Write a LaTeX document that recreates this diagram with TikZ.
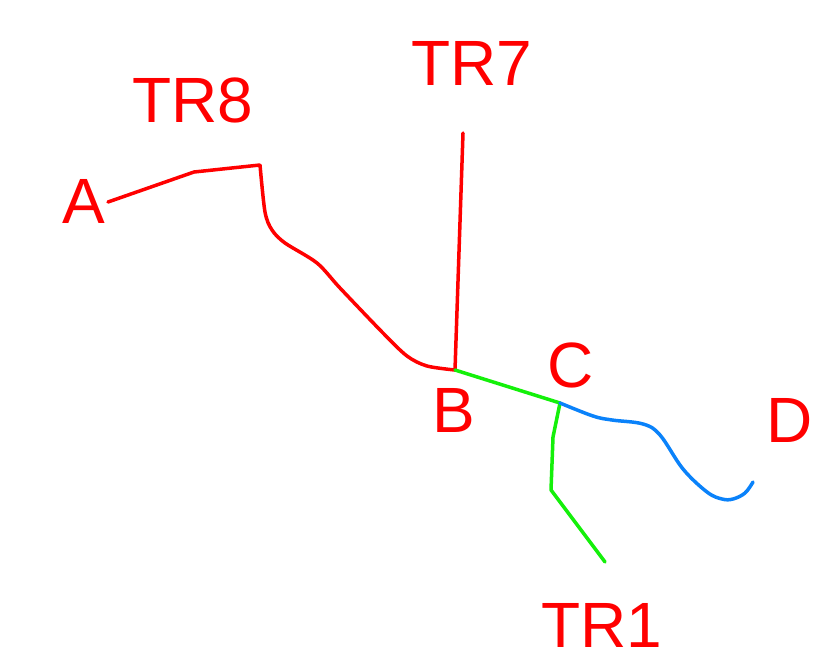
\documentclass[tikz,border=0pt]{standalone}
\usepackage{fontspec}
\setmainfont{Liberation Sans}
\begin{document}
\begin{tikzpicture}[x=1pt,y=-1pt,
  lbl/.style={text=red,font=\fontsize{64}{64}\selectfont,inner sep=0pt,anchor=base},
  redline/.style={draw=red,line width=3.5pt,line join=round,line cap=round},
  greenline/.style={draw=grn,line width=3.5pt,line join=round,line cap=round},
  blueline/.style={draw=blu,line width=3.5pt,line join=round,line cap=round}]
\definecolor{grn}{RGB}{20,240,10}
\definecolor{blu}{RGB}{10,130,250}
\useasboundingbox[fill=white] (0,0) rectangle (813,670);
% labels
\node[lbl] (lA) at (84,223) {A};
\node[lbl] (lTR8) at (193,122) {TR8};
\node[lbl] (lTR7) at (472,85) {TR7};
\node[lbl] (lB) at (454,432) {B};
\node[lbl] (lC) at (571,387) {C};
\node[lbl] (lD) at (790,442) {D};
\node[lbl] (lTR1) at (602,647) {TR1};
% junctions and ends
\coordinate (a) at (108,202);
\coordinate (b) at (455,370);
\coordinate (c) at (560,403);
\coordinate (t7) at (463,133);
\coordinate (t1) at (605,562);
\coordinate (d) at (753,482);
% red paths
\draw[redline] (a) -- (194,172) -- (260,165)
  plot[smooth,tension=0.5] coordinates {(260,165) (265,212) (272,230) (285,243) (317,263) (340,288) (383,333) (407,356) (427,366) (455,370)};
\draw[redline] (t7) -- (b);
% green paths
\draw[greenline] (b) -- (c);
\draw[greenline] (c) -- (553,437) -- (551,490) -- (t1);
% blue path
\draw[blueline] plot[smooth,tension=0.6] coordinates {(560,403) (593,416) (612,420) (643,424) (660,435) (683,469) (707,492) (722,499) (733,499) (745,493) (753,482)};
\end{tikzpicture}
\end{document}
